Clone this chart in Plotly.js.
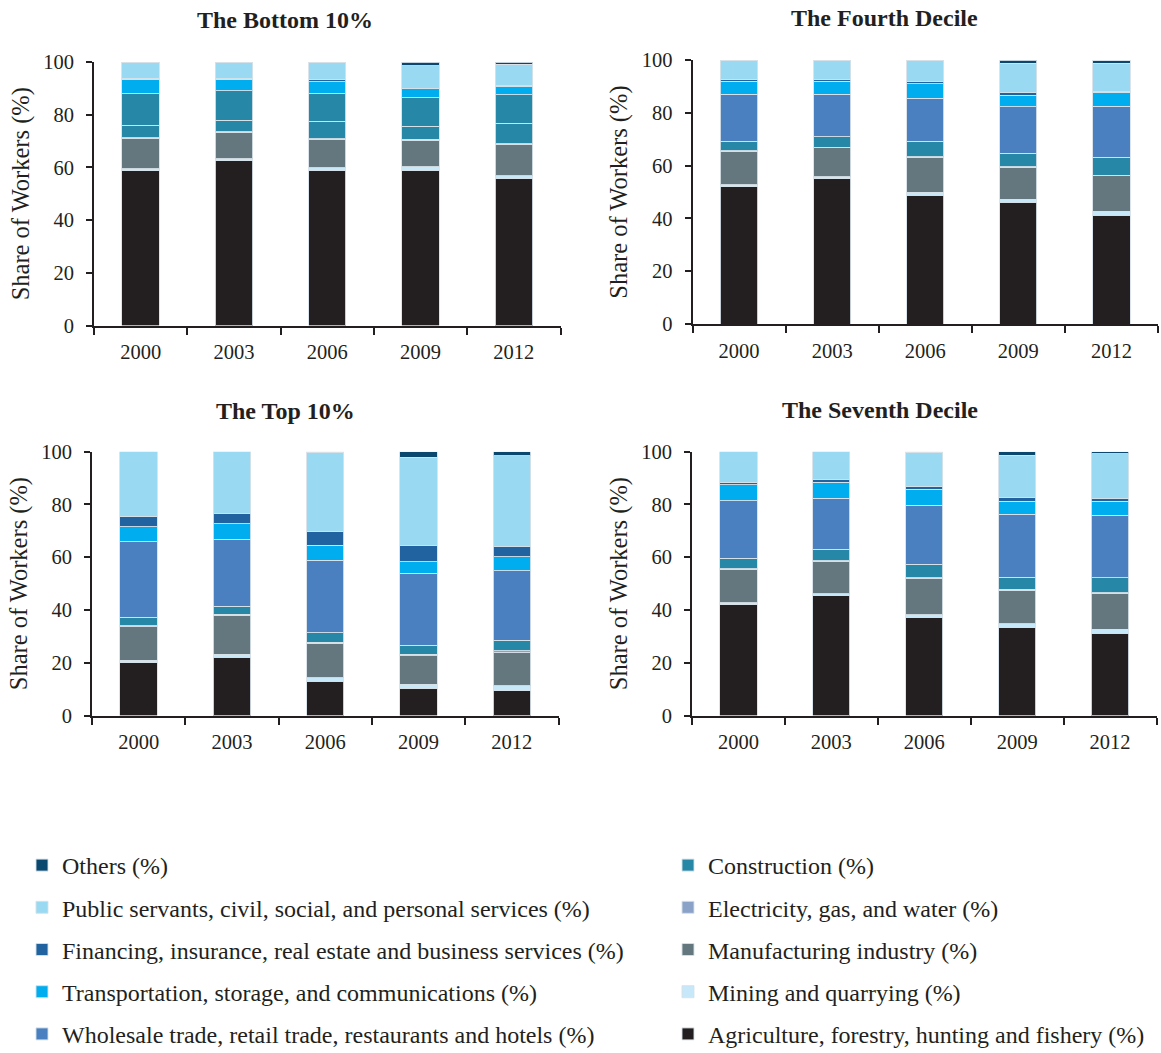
<!DOCTYPE html>
<html>
<head>
<meta charset="utf-8">
<script src="https://cdn.plot.ly/plotly-3.0.1.min.js"></script>
<style>
  html, body { margin: 0; padding: 0; background: #ffffff; }
  #chart { width: 1161px; height: 1053px; }
</style>
</head>
<body>
<div id="chart"></div>
<script>
// Survey years on the category axis
const years = ['2000', '2003', '2006', '2009', '2012'];

// Panel order: The Bottom 10%, The Fourth Decile, The Top 10%, The Seventh Decile
const panelTitles = ['The Bottom 10%', 'The Fourth Decile', 'The Top 10%', 'The Seventh Decile'];

// Share of workers (%) by sector; one row per panel, one value per year
const agriculture   = [[58.7, 62.5, 59.0, 59.0, 55.7], [52.0, 55.0, 48.7, 46.1, 41.2], [20.0, 22.1, 13.0, 10.4, 9.4], [42.2, 45.4, 37.1, 33.3, 31.2]];
const mining        = [[0.8, 0.8, 0.9, 1.3, 1.2], [0.7, 0.7, 1.2, 1.2, 1.6], [1.0, 1.2, 1.3, 1.4, 1.8], [0.6, 0.8, 1.1, 1.4, 1.5]];
const manufacturing = [[11.6, 10.0, 10.8, 10.0, 11.9], [12.7, 11.1, 13.2, 12.0, 13.3], [12.7, 14.7, 13.1, 10.8, 12.6], [12.6, 12.2, 13.8, 12.7, 13.6]];
const electricity   = [[0.2, 0.2, 0.2, 0.3, 0.2], [0.2, 0.2, 0.2, 0.2, 0.3], [0.3, 0.3, 0.4, 0.7, 0.8], [0.3, 0.3, 0.3, 0.4, 0.3]];
const construction  = [[4.7, 4.4, 6.6, 5.0, 7.7], [3.7, 3.9, 6.0, 5.1, 6.7], [3.2, 3.2, 3.5, 3.3, 3.9], [3.9, 4.3, 5.0, 4.7, 5.7]];
const wholesale     = [[12.0, 11.2, 10.5, 10.9, 10.9], [17.7, 16.1, 16.2, 17.7, 19.4], [28.7, 25.3, 27.6, 27.3, 26.4], [21.9, 19.4, 22.4, 23.7, 23.6]];
const transport     = [[5.4, 4.3, 4.5, 3.3, 3.2], [5.0, 5.0, 5.5, 4.4, 5.3], [5.7, 5.8, 5.6, 4.4, 5.3], [5.9, 6.0, 6.0, 5.1, 5.3]];
const financing     = [[0.4, 0.3, 0.7, 0.2, 0.2], [0.7, 0.5, 0.7, 0.9, 0.4], [4.0, 3.8, 5.2, 6.0, 3.8], [1.0, 0.9, 1.0, 1.5, 0.9]];
const publicSvc     = [[6.2, 6.3, 6.8, 8.5, 8.1], [7.3, 7.5, 8.3, 11.1, 10.6], [24.4, 23.6, 30.0, 33.6, 34.5], [11.6, 10.7, 13.1, 15.8, 17.1]];
const others        = [[0.0, 0.0, 0.0, 1.5, 0.9], [0.0, 0.0, 0.0, 1.3, 0.9], [0.0, 0.0, 0.2, 2.1, 1.5], [0.0, 0.0, 0.2, 1.4, 0.8]];

// Sector names as shown in the legend
const sectorNames = {
  agriculture: 'Agriculture, forestry, hunting and fishery (%)',
  mining: 'Mining and quarrying (%)',
  manufacturing: 'Manufacturing industry (%)',
  electricity: 'Electricity, gas, and water (%)',
  construction: 'Construction (%)',
  wholesale: 'Wholesale trade, retail trade, restaurants and hotels (%)',
  transport: 'Transportation, storage, and communications (%)',
  financing: 'Financing, insurance, real estate and business services (%)',
  publicSvc: 'Public servants, civil, social, and personal services (%)',
  others: 'Others (%)'
};

const sectorColors = {
  agriculture: '#231f20',
  mining: '#c6e8f8',
  manufacturing: '#65777e',
  electricity: '#8aa2c8',
  construction: '#2787a7',
  wholesale: '#4a80c0',
  transport: '#00adee',
  financing: '#2163a0',
  publicSvc: '#99d9f1',
  others: '#0a4870'
};

// Stacking order, bottom to top
const stack = [
  ['agriculture', agriculture], ['mining', mining], ['manufacturing', manufacturing],
  ['electricity', electricity], ['construction', construction], ['wholesale', wholesale],
  ['transport', transport], ['financing', financing], ['publicSvc', publicSvc], ['others', others]
];

// Legend placement: left column and right column, top to bottom
const legendSlot = {
  others: ['legend', 1], publicSvc: ['legend', 2], financing: ['legend', 3], transport: ['legend', 4], wholesale: ['legend', 5],
  construction: ['legend2', 1], electricity: ['legend2', 2], manufacturing: ['legend2', 3], mining: ['legend2', 4], agriculture: ['legend2', 5]
};

const W = 1161, H = 1053;
// Plot areas in pixels: [left, right, top, bottom]
const boxes = [
  [94, 560.5, 62, 325.5],
  [692.5, 1158, 60, 324],
  [92, 558.5, 451.7, 715.5],
  [692, 1156.5, 451.7, 715.5]
];
const titlePos = [[285, 20], [884, 18], [285, 411], [880, 410]];

const ink = '#231f20';
const serif = 'Liberation Serif, Times New Roman, serif';

const traces = [];
stack.forEach(([key, rows]) => {
  rows.forEach((vals, p) => {
    // In the bottom-decile panel the trade segment is drawn in the construction tone
    const color = (p === 0 && key === 'wholesale') ? sectorColors.construction : sectorColors[key];
    const slot = legendSlot[key];
    traces.push({
      type: 'bar',
      name: sectorNames[key],
      x: years,
      y: vals,
      xaxis: 'x' + (p + 1),
      yaxis: 'y' + (p + 1),
      marker: { color: color, line: { color: 'rgba(215,225,232,0.9)', width: 1 } },
      legendgroup: key,
      legend: slot[0],
      legendrank: slot[1],
      showlegend: p === 1,
      hovertemplate: '%{x}: %{y:.1f}%<extra>' + sectorNames[key] + '</extra>'
    });
  });
});

const legendFont = { family: serif, size: 24, color: ink };

const layout = {
  width: W,
  height: H,
  margin: { l: 0, r: 0, t: 0, b: 0, autoexpand: false },
  paper_bgcolor: '#ffffff',
  plot_bgcolor: '#ffffff',
  barmode: 'stack',
  bargap: 0.6,
  font: { family: serif, color: ink, size: 20 },
  annotations: [],
  legend: {
    x: 22 / W, y: 1 - 843 / H, xanchor: 'left', yanchor: 'top',
    orientation: 'v', traceorder: 'grouped', tracegroupgap: 8,
    font: legendFont, bgcolor: 'rgba(0,0,0,0)'
  },
  legend2: {
    x: 668 / W, y: 1 - 843 / H, xanchor: 'left', yanchor: 'top',
    orientation: 'v', traceorder: 'grouped', tracegroupgap: 8,
    font: legendFont, bgcolor: 'rgba(0,0,0,0)'
  }
};

boxes.forEach((b, p) => {
  const n = p + 1;
  layout['xaxis' + n] = {
    domain: [b[0] / W, b[1] / W],
    anchor: 'y' + n,
    type: 'category',
    range: [-0.5, 4.5],
    tickson: 'boundaries',
    ticks: 'outside', ticklen: 7, tickwidth: 2, tickcolor: ink,
    showline: true, linewidth: 2, linecolor: ink,
    showgrid: false, zeroline: false,
    tickfont: { family: serif, size: 20.5, color: ink },
    ticklabelstandoff: 7
  };
  layout['yaxis' + n] = {
    domain: [1 - b[3] / H, 1 - b[2] / H],
    anchor: 'x' + n,
    range: [0, 100],
    dtick: 20,
    ticks: 'outside', ticklen: 6, tickwidth: 2, tickcolor: ink,
    showline: true, linewidth: 2, linecolor: ink,
    showgrid: false, zeroline: false,
    tickfont: { family: serif, size: 20.5, color: ink },
    ticklabelstandoff: 8,
    title: { text: 'Share of Workers (%)', font: { family: serif, size: 24.5, color: ink }, standoff: 7 }
  };
  layout.annotations.push({
    text: '<b>' + panelTitles[p] + '</b>',
    xref: 'paper', yref: 'paper',
    x: titlePos[p][0] / W, y: 1 - titlePos[p][1] / H,
    xanchor: 'center', yanchor: 'middle',
    showarrow: false,
    font: { family: serif, size: 24, color: ink }
  });
});

Plotly.newPlot('chart', traces, layout, { displayModeBar: false });
</script>
</body>
</html>
